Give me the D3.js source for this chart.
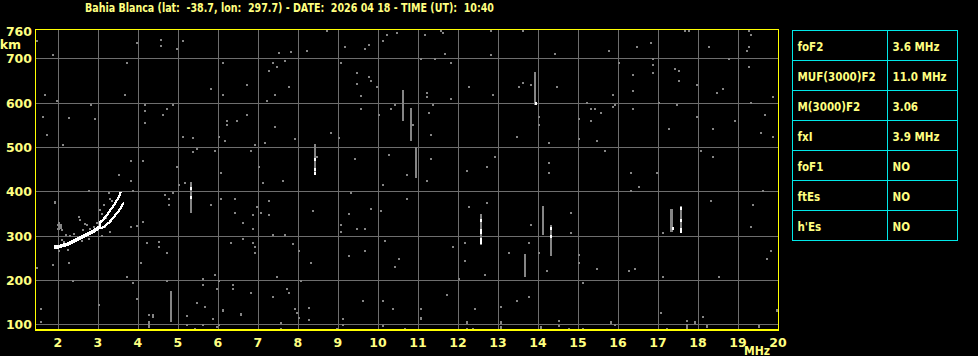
<!DOCTYPE html>
<html lang="en">
<head>
<meta charset="UTF-8">
<title>Ionogram Bahia Blanca</title>
<script src="https://d3js.org/d3.v7.min.js"></script>
<style>
  body, html { margin: 0; padding: 0; background: #000; overflow: hidden; }
  svg { display: block; background: #000; }
  text { font-family: "DejaVu Sans", sans-serif; font-weight: bold; fill: #ffff80; }
  .cond { font-family: "DejaVu Sans Condensed", "DejaVu Sans", sans-serif; font-stretch: condensed; }
</style>
</head>
<body>
<svg width="978" height="356"></svg>
<script>
// ---- data ----
const title = "Bahia Blanca (lat:  -38.7, lon:  297.7) - DATE:  2026 04 18 - TIME (UT):  10:40";
const freqTicks = [2, 3, 4, 5, 6, 7, 8, 9, 10, 11, 12, 13, 14, 15, 16, 17, 18, 19, 20];
const heightTicks = [100, 200, 300, 400, 500, 600, 700];
const params = ["foF2", "MUF(3000)F2", "M(3000)F2", "fxI", "foF1", "ftEs", "h'Es"];
const paramValues = ["3.6 MHz", "11.0 MHz", "3.06", "3.9 MHz", "NO", "NO", "NO"];

// F-layer trace (MHz, km)
const mainTrace = [[1.90,274],[1.97,274],[2.03,275],[2.10,277],[2.18,279],[2.26,281],[2.36,286],[2.46,290],
  [2.56,295],[2.66,299],[2.76,304],[2.86,308],[2.98,315],[3.04,319]];
const oBranch = [[3.04,319],[3.06,330],[3.13,336],[3.21,344],[3.28,353],[3.38,366],[3.46,377],[3.53,388],[3.57,398]];
const xBranch = [[3.04,319],[3.10,317],[3.20,323],[3.30,331],[3.40,342],[3.50,353],[3.60,366],[3.65,375]];

// grey echoes around the trace
const haloDots = [[1.93,376],[2.01,324],[2.06,319],[2.01,315],[2.11,313],[2.56,335],[2.53,342],[2.68,326],
  [2.63,313],[2.73,324],[2.31,299],[2.41,304],[2.21,301],[2.11,290],[2.16,286],[3.31,383],[3.36,378],
  [3.28,396],[3.16,369],[3.06,358],[3.11,349],[3.21,340],[2.98,328],[2.91,319],[2.81,315],[3.18,319],
  [3.31,308],[3.11,299],[2.78,292],[2.61,288],[2.26,268],[2.03,265]];

// vertical echo streaks [MHz, km low, km high]
const streaks = [[2.03,312,330],[2.08,315,326],[4.83,106,176],[5.33,349,420],[8.43,435,506],[10.63,557,628],
  [10.83,512,587],[10.94,430,501],[13.93,593,668],[12.58,277,348],[14.13,300,366],[14.33,255,325],
  [13.68,205,258],[17.33,309,361],[17.36,309,361],[17.58,309,367],[4.27,93,108],[4.37,112,122],
  [17.72,88,100],[14.07,88,96],[13.07,88,96]];

// bright echo pixels on streaks
const whiteDots = [[5.33,408],[5.33,387],[8.43,472],[8.43,450],[8.43,441],[13.95,599],[12.58,336],
  [12.58,313],[12.58,307],[12.58,292],[12.58,285],[14.33,318],[14.33,298],[17.38,318],[17.58,363],
  [17.58,336],[17.58,314],[17.58,310]];

// scattered noise pixels
const noiseDots = [
  [1.47,740],[1.87,708],[3.97,735],[3.72,689],[1.67,618],[3.67,618],[2.82,595],[2.27,566],[1.62,568],
  [2.92,564],[1.97,604],[1.72,528],[2.12,505],[3.82,469],[3.52,437],[3.82,424],[3.87,401],[2.77,401],
  [1.92,374],[1.47,228],[1.87,234],[2.27,239],[2.37,198],[3.72,207],[3.87,194],[3.02,144],[1.57,135],
  [1.57,104],[3.97,158],[3.97,322],[3.27,395],[3.82,320],
  [4.58,742],[4.58,727],[5.13,739],[4.97,721],[5.82,631],[6.12,689],[6.12,617],[6.72,640],[7.22,604],
  [7.27,671],[7.37,689],[7.47,680],[7.52,712],[7.67,695],[7.82,715],[7.78,635],[8.22,716],[7.42,617],
  [8.72,762],[9.17,726],[9.07,689],[9.47,667],[9.47,643],[9.57,616],[9.77,658],[9.82,649],[9.77,729],
  [9.67,721],[9.97,635],[10.12,739],[10.22,753],[10.47,757],[11.07,698],[11.17,753],[11.42,698],
  [11.57,762],[11.62,757],[11.67,710],[11.82,689],[11.22,622],[11.22,613],[11.82,608],[11.37,595],
  [11.27,577],[4.17,595],[4.17,581],[4.72,586],[4.87,595],[4.62,572],[4.17,553],[5.12,522],[5.37,521],
  [6.02,522],[6.17,513],[6.22,559],[6.22,550],[6.47,559],[6.72,572],[7.42,545],[7.17,509],[6.92,504],
  [7.92,518],[8.82,531],[9.02,521],[9.57,586],[10.32,586],[10.42,595],[10.02,572],[4.12,468],[4.97,455],
  [5.37,489],[5.47,495],[5.92,491],[6.07,441],[6.82,491],[7.02,455],[7.12,419],[7.62,423],[8.47,477],
  [9.42,473],[10.27,482],[10.12,414],[10.72,437],[10.87,550],[11.32,526],[11.32,473],[11.22,423],
  [5.02,414],[5.17,419],[4.67,392],[4.77,383],[4.87,396],[4.77,369],[5.82,369],[6.07,383],[6.42,383],
  [6.42,351],[6.62,328],[6.87,346],[6.97,364],[7.07,351],[7.27,378],[7.27,346],[6.87,315],[8.37,355],
  [9.32,396],[9.27,349],[9.07,324],[9.07,307],[9.47,315],[9.67,315],[9.82,360],[10.07,355],[10.72,383],
  [4.12,331],[4.22,283],[4.52,286],[4.52,274],[4.72,261],[4.07,238],[6.62,292],[6.32,283],[6.87,283],
  [6.92,274],[6.92,261],[7.37,301],[7.67,301],[7.87,282],[8.02,265],[8.32,238],[9.27,255],[9.67,265],
  [10.17,288],[10.52,247],[10.42,229],[11.87,274],[4.72,198],[5.62,202],[5.62,189],[5.92,211],[6.02,198],
  [5.97,180],[6.37,189],[6.37,180],[6.82,171],[7.47,207],[7.72,180],[7.78,171],[7.37,161],[8.07,198],
  [5.47,148],[5.67,139],[6.12,130],[6.57,121],[4.27,121],[4.27,104],[4.37,118],[5.22,119],[5.87,112],
  [7.92,134],[7.97,125],[8.27,137],[8.27,110],[7.57,103],[9.12,112],[9.62,152],[10.12,152],[10.37,134],
  [11.07,134],[11.07,112],[11.72,166],[12.02,202],
  [12.83,762],[13.63,762],[12.83,707],[14.43,710],[15.78,716],[16.48,725],[16.83,735],[17.68,762],
  [17.78,762],[18.28,725],[19.28,762],[19.33,753],[19.28,725],[19.23,716],[16.03,689],[16.88,698],
  [16.88,685],[16.88,667],[16.38,662],[17.43,676],[17.53,671],[17.53,649],[17.98,640],[18.63,631],
  [18.48,622],[18.78,698],[19.28,680],[19.88,613],[12.28,635],[12.88,617],[13.53,635],[13.63,644],
  [13.83,640],[14.48,635],[15.88,617],[16.38,626],[14.03,568],[14.03,550],[13.48,522],[14.28,509],
  [15.03,563],[15.23,599],[15.33,586],[15.43,586],[15.58,577],[15.33,559],[15.03,518],[15.48,513],
  [15.88,590],[15.93,595],[16.38,586],[17.03,599],[17.48,595],[17.98,568],[17.28,540],[18.38,540],
  [18.93,559],[19.33,599],[19.68,572],[19.58,531],[19.88,522],[12.93,477],[12.73,455],[12.23,446],
  [14.28,464],[14.28,441],[15.68,491],[16.33,441],[16.53,410],[16.98,441],[16.33,401],[18.08,491],
  [18.38,477],[12.28,364],[12.73,374],[13.83,324],[14.83,351],[14.83,306],[17.13,306],[18.33,378],
  [19.38,369],[19.33,319],[19.63,401],[12.18,283],[12.18,243],[12.68,211],[13.28,261],[13.78,283],
  [14.03,261],[14.23,220],[15.03,256],[15.03,238],[15.48,225],[16.28,220],[16.43,225],[17.13,207],
  [18.53,207],[19.73,247],[19.83,265],[15.13,193],[13.78,161],[13.48,152],[13.08,139],[12.43,134],
  [12.23,103],[13.08,103],[14.53,107],[14.53,95],[15.83,103],[15.93,98],[17.08,125],[17.73,107],
  [17.93,103],[18.13,116],[18.23,94],[19.53,94],[19.98,130],[14.08,94],
  [5.22,99],[5.42,90],[5.62,99],[5.97,93],[6.02,99],[6.12,131],[6.57,122],[7.57,90],[7.97,126],
  [8.02,113],[8.97,90],[9.12,99],[10.12,95],[10.37,135],[10.67,90],[11.07,113],[12.22,104],[12.22,90],
  [12.37,90],[12.42,135],[13.07,140],[13.07,104],[13.47,153],[13.77,162],[14.52,108],[14.77,90],
  [15.12,90],[15.82,104],[15.92,99],[17.07,126],[17.22,90],[17.72,108],[17.92,104],[18.12,117],
  [18.22,95],[19.52,95],[19.97,131],[9.62,153],[7.37,162],[7.78,171],[6.82,171]
];

// ---- layout ----
const svg = d3.select("svg");
const plot = { left: 35, right: 778, top: 29.5, bottom: 330 };

const x = d3.scaleLinear().domain([1.43, 20]).range([plot.left, plot.right]);
const y = d3.scaleLinear().domain([87, 765]).range([plot.bottom, plot.top]);
const px = v => Math.round(v) + 0.5;

// title
svg.append("text")
  .attr("class", "cond")
  .attr("x", 85).attr("y", 11.5)
  .attr("textLength", 409).attr("lengthAdjust", "spacingAndGlyphs")
  .style("font-size", "13px")
  .style("white-space", "pre")
  .text(title);

// grid
const grid = svg.append("g").attr("stroke", "#6e6e6e").attr("stroke-width", 1).attr("shape-rendering", "crispEdges");
grid.selectAll(".vg").data(freqTicks.filter(d => d < 20)).enter().append("line")
  .attr("x1", d => px(x(d))).attr("x2", d => px(x(d)))
  .attr("y1", plot.top).attr("y2", plot.bottom);
grid.selectAll(".hg").data(heightTicks).enter().append("line")
  .attr("x1", plot.left).attr("x2", plot.right)
  .attr("y1", d => px(y(d))).attr("y2", d => px(y(d)));

// echoes
const echoes = svg.append("g").attr("shape-rendering", "crispEdges");
echoes.selectAll(".noise").data(noiseDots.concat(haloDots)).enter().append("rect")
  .attr("x", d => Math.round(x(d[0])) - 1).attr("y", d => Math.round(y(d[1])) - 1)
  .attr("width", 2).attr("height", 2).attr("fill", "#858585");
echoes.selectAll(".streak").data(streaks).enter().append("rect")
  .attr("x", d => Math.round(x(d[0])) - 1).attr("y", d => Math.round(y(d[2])))
  .attr("width", 2).attr("height", d => Math.round(y(d[1]) - y(d[2])))
  .attr("fill", "#858585");
echoes.selectAll(".white").data(whiteDots).enter().append("rect")
  .attr("x", d => Math.round(x(d[0])) - 1).attr("y", d => Math.round(y(d[1])) - 1)
  .attr("width", 2).attr("height", 3).attr("fill", "#ffffff");

const line = d3.line().x(d => x(d[0])).y(d => y(d[1]));
const traces = svg.append("g").attr("fill", "none").attr("stroke", "#fff").attr("shape-rendering", "crispEdges");
traces.append("path").datum(mainTrace).attr("d", line).attr("stroke-width", 3.5);
traces.append("path").datum(oBranch).attr("d", line).attr("stroke-width", 2.2);
traces.append("path").datum(xBranch).attr("d", line).attr("stroke-width", 2.2);

// frame
svg.append("rect")
  .attr("x", plot.left + 0.5).attr("y", plot.top)
  .attr("width", plot.right - plot.left).attr("height", plot.bottom - plot.top)
  .attr("fill", "none").attr("stroke", "#ffff00").attr("stroke-width", 1.2)
  .attr("shape-rendering", "crispEdges");

// axis labels
svg.selectAll(".xl").data(freqTicks).enter().append("text")
  .attr("x", d => x(d)).attr("y", 346.5)
  .attr("text-anchor", "middle").style("font-size", "12.5px")
  .text(d => d);
svg.append("text").attr("class", "cond").attr("x", 770).attr("y", 354.5).attr("text-anchor", "end")
  .style("font-size", "12px").text("MHz");

svg.selectAll(".yl").data(heightTicks).enter().append("text")
  .attr("x", 32).attr("y", d => y(d) + 5)
  .attr("text-anchor", "end").style("font-size", "12.5px")
  .text(d => d);
svg.append("text").attr("x", 32).attr("y", 35.5).attr("text-anchor", "end")
  .style("font-size", "12.5px").text("760");
svg.append("text").attr("x", 21).attr("y", 48.5).attr("text-anchor", "end")
  .style("font-size", "12.5px").text("km");

// parameter table
const table = { left: 792.5, mid: 887.5, right: 957.5, top: 30.5, row: 30 };
const tg = svg.append("g");
tg.append("rect")
  .attr("x", table.left).attr("y", table.top)
  .attr("width", table.right - table.left).attr("height", table.row * params.length)
  .attr("fill", "none").attr("stroke", "#00e8e8").attr("stroke-width", 1);
tg.append("line").attr("x1", table.mid).attr("x2", table.mid)
  .attr("y1", table.top).attr("y2", table.top + table.row * params.length)
  .attr("stroke", "#00e8e8");
tg.selectAll(".rl").data(params.slice(1)).enter().append("line")
  .attr("x1", table.left).attr("x2", table.right)
  .attr("y1", (d, i) => table.top + table.row * (i + 1))
  .attr("y2", (d, i) => table.top + table.row * (i + 1))
  .attr("stroke", "#00e8e8");
tg.selectAll(".pn").data(params).enter().append("text")
  .attr("class", "cond")
  .attr("x", table.left + 5).attr("y", (d, i) => table.top + table.row * i + 20)
  .style("font-size", "11.5px").text(d => d);
tg.selectAll(".pv").data(paramValues).enter().append("text")
  .attr("class", "cond")
  .attr("x", table.mid + 5).attr("y", (d, i) => table.top + table.row * i + 20)
  .style("font-size", "11.5px").text(d => d);
</script>
</body>
</html>
